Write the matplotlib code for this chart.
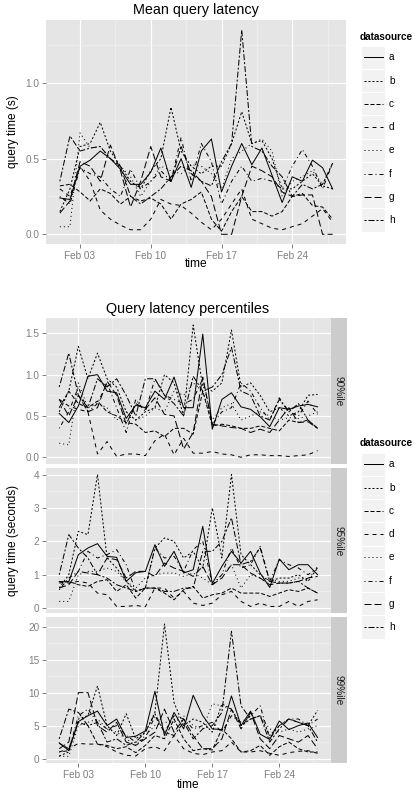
import numpy as np
import pandas as pd
import matplotlib
matplotlib.use("Agg")
import matplotlib.pyplot as plt
import matplotlib.dates as mdates
from matplotlib.ticker import MultipleLocator, FixedLocator, FormatStrFormatter
from matplotlib.lines import Line2D
from matplotlib.patches import Rectangle

plt.rcParams['font.family'] = ['Liberation Sans', 'DejaVu Sans']

# --- data ---
days = pd.date_range('2014-02-01', periods=28, freq='D')
sources = ['a', 'b', 'c', 'd', 'e', 'f', 'g', 'h']
percentiles = ['90%ile', '95%ile', '99%ile']

# mean query latency (s)
mean_a = [0.24, 0.23, 0.45, 0.49, 0.55, 0.50, 0.43, 0.33, 0.33, 0.41, 0.57, 0.35, 0.50, 0.31,
          0.55, 0.63, 0.28, 0.45, 0.60, 0.46, 0.57, 0.39, 0.21, 0.38, 0.35, 0.49, 0.44, 0.30]
mean_b = [0.15, 0.30, 0.58, 0.60, 0.74, 0.55, 0.45, 0.35, 0.30, 0.42, 0.50, 0.84, 0.55, 0.45,
          0.40, 0.45, 0.45, 0.60, 0.81, 0.60, 0.62, 0.50, 0.30, 0.30, 0.35, 0.40, 0.32, 0.30]
mean_c = [0.32, 0.33, 0.28, 0.22, 0.30, 0.27, 0.20, 0.25, 0.22, 0.24, 0.20, 0.10, 0.20, 0.23,
          0.28, 0.10, 0.02, 0.15, 0.25, 0.15, 0.15, 0.12, 0.15, 0.25, 0.27, 0.19, 0.18, 0.10]
mean_d = [0.30, 0.25, 0.45, 0.35, 0.16, 0.10, 0.06, 0.03, 0.03, 0.10, 0.23, 0.20, 0.19, 0.14,
          0.08, 0.03, 0.10, 0.20, 0.30, 0.10, 0.07, 0.04, 0.03, 0.05, 0.07, 0.12, 0.17, 0.08]
mean_e = [0.05, 0.05, 0.67, 0.57, 0.58, 0.50, 0.45, 0.38, 0.25, 0.35, 0.45, 0.42, 0.40, 0.46,
          0.45, 0.40, 0.30, 0.50, 0.55, 0.60, 0.63, 0.55, 0.25, 0.35, 0.38, 0.42, 0.33, 0.47]
mean_f = [0.25, 0.20, 0.44, 0.40, 0.38, 0.30, 0.25, 0.43, 0.30, 0.35, 0.42, 0.35, 0.64, 0.35,
          0.60, 0.48, 0.20, 0.35, 0.45, 0.35, 0.37, 0.35, 0.30, 0.45, 0.56, 0.45, 0.30, 0.47]
mean_g = [0.14, 0.22, 0.48, 0.45, 0.35, 0.59, 0.42, 0.18, 0.35, 0.58, 0.38, 0.35, 0.58, 0.40,
          0.35, 0.25, 0.00, 0.00, 0.25, 0.45, 0.42, 0.38, 0.28, 0.25, 0.26, 0.26, 0.00, 0.00]
mean_h = [0.35, 0.65, 0.55, 0.57, 0.58, 0.50, 0.45, 0.25, 0.20, 0.25, 0.30, 0.38, 0.45, 0.42,
          0.35, 0.32, 0.48, 0.60, 1.35, 0.58, 0.55, 0.45, 0.38, 0.25, 0.33, 0.30, 0.33, 0.47]

# 90th percentile (s)
p90_a = [0.53, 0.42, 0.62, 0.98, 1.00, 0.80, 0.78, 0.47, 0.63, 0.60, 0.80, 0.70, 0.97, 0.60,
         0.60, 1.49, 0.34, 0.70, 0.78, 0.61, 0.58, 0.49, 0.37, 0.60, 0.58, 0.62, 0.64, 0.61]
p90_b = [0.55, 0.80, 1.34, 0.95, 1.26, 0.95, 0.85, 0.55, 0.45, 0.55, 0.60, 1.00, 0.90, 0.50,
         1.60, 0.85, 0.80, 0.90, 1.54, 0.85, 0.90, 0.75, 0.55, 0.60, 0.50, 0.55, 0.75, 0.76]
p90_c = [0.60, 0.80, 0.65, 0.60, 0.68, 0.55, 0.50, 0.42, 0.40, 0.30, 0.32, 0.25, 0.35, 0.35,
         0.28, 0.80, 0.38, 0.40, 0.38, 0.35, 0.35, 0.38, 0.35, 0.32, 0.45, 0.42, 0.45, 0.35]
p90_d = [0.70, 0.62, 0.58, 0.55, 0.04, 0.19, 0.01, 0.04, 0.04, 0.02, 0.20, 0.28, 0.03, 0.23,
         0.05, 0.05, 0.07, 0.04, 0.03, 0.00, 0.03, 0.03, 0.02, 0.02, 0.01, 0.02, 0.03, 0.08]
p90_e = [0.17, 0.15, 0.90, 0.60, 0.65, 0.60, 0.45, 0.55, 0.45, 0.50, 0.60, 0.55, 0.80, 0.75,
         0.90, 0.80, 0.45, 0.60, 0.65, 0.45, 0.50, 0.55, 0.50, 0.45, 0.48, 0.47, 0.50, 0.55]
p90_f = [0.35, 0.55, 0.85, 0.55, 0.65, 0.90, 0.60, 0.30, 0.70, 0.55, 0.95, 0.75, 0.70, 0.65,
         0.70, 0.95, 0.40, 0.55, 0.60, 0.90, 0.80, 0.60, 0.45, 0.72, 0.55, 0.50, 0.68, 0.52]
p90_g = [0.70, 0.50, 0.75, 0.55, 0.60, 0.92, 0.75, 0.40, 0.65, 0.58, 0.72, 0.52, 0.50, 0.10,
         0.30, 0.97, 0.40, 0.38, 0.36, 0.35, 0.30, 0.34, 0.30, 0.45, 0.60, 0.42, 0.43, 0.35]
p90_h = [0.85, 1.26, 0.75, 0.60, 0.95, 0.85, 0.95, 0.75, 0.50, 0.95, 0.95, 0.75, 0.65, 0.50,
         0.98, 0.80, 0.85, 1.00, 1.33, 0.80, 0.75, 0.50, 0.45, 0.70, 0.55, 0.65, 0.45, 0.35]

# 95th percentile (s)
p95_a = [0.79, 0.79, 1.60, 1.80, 1.93, 1.55, 1.52, 0.80, 1.06, 1.10, 1.90, 1.25, 1.70, 1.05,
         1.15, 2.45, 0.74, 1.25, 1.70, 1.35, 1.70, 1.05, 0.62, 1.47, 1.15, 1.30, 1.30, 1.00]
p95_b = [0.60, 1.00, 2.30, 2.20, 4.00, 1.50, 1.20, 0.80, 0.50, 0.60, 1.80, 2.10, 2.00, 1.50,
         1.70, 1.20, 3.00, 1.50, 4.00, 1.60, 1.30, 1.00, 0.80, 0.90, 0.90, 1.00, 0.80, 1.20]
p95_c = [0.75, 0.80, 0.70, 0.65, 0.80, 0.85, 0.50, 0.70, 0.30, 0.60, 0.60, 0.45, 0.25, 0.55,
         0.65, 0.30, 0.40, 0.45, 0.60, 0.45, 0.45, 0.45, 0.35, 0.45, 0.55, 0.50, 0.60, 0.45]
p95_d = [0.80, 0.75, 0.80, 0.75, 0.45, 0.40, 0.05, 0.05, 0.08, 0.04, 0.60, 0.60, 0.30, 0.50,
         0.15, 0.08, 0.15, 0.40, 0.50, 0.20, 0.05, 0.15, 0.05, 0.05, 0.20, 0.05, 0.20, 0.25]
p95_e = [0.20, 0.20, 1.00, 1.10, 1.10, 1.20, 1.10, 0.80, 0.60, 0.90, 1.00, 1.05, 1.05, 0.95,
         1.05, 0.90, 0.70, 1.00, 1.30, 0.60, 1.00, 0.90, 0.85, 0.80, 0.80, 0.90, 0.85, 1.25]
p95_f = [0.55, 0.90, 1.10, 1.70, 1.50, 1.60, 1.75, 1.30, 0.50, 0.60, 1.80, 1.50, 1.55, 1.10,
         1.75, 2.00, 0.70, 1.00, 1.80, 1.20, 1.30, 1.85, 0.80, 1.45, 1.30, 1.20, 1.00, 1.20]
p95_g = [0.60, 0.70, 1.10, 1.05, 1.00, 1.50, 1.45, 0.90, 1.10, 1.10, 0.95, 1.35, 1.20, 1.10,
         0.95, 1.25, 0.70, 0.90, 1.30, 1.30, 1.05, 0.90, 0.70, 0.75, 0.75, 0.80, 0.90, 0.95]
p95_h = [1.00, 2.20, 1.80, 1.50, 1.00, 0.90, 0.70, 0.60, 0.50, 0.60, 0.60, 0.50, 0.50, 0.60,
         0.60, 1.70, 1.70, 2.00, 2.70, 1.30, 1.40, 1.80, 0.80, 0.75, 0.75, 0.80, 0.60, 0.45]

# 99th percentile (s)
p99_a = [2.4, 1.2, 5.6, 6.5, 7.2, 5.0, 6.0, 3.2, 3.4, 4.2, 10.2, 3.5, 7.0, 4.5,
         9.6, 6.5, 4.5, 4.4, 9.5, 5.0, 7.2, 3.7, 2.9, 5.7, 4.4, 5.0, 5.4, 3.2]
p99_b = [0.4, 1.0, 6.0, 6.5, 11.0, 5.0, 3.5, 6.8, 3.0, 4.0, 7.0, 20.4, 8.5, 5.0,
         6.0, 5.5, 4.0, 8.3, 7.5, 5.0, 6.0, 6.5, 3.5, 5.0, 6.0, 5.5, 5.0, 7.3]
p99_c = [2.3, 1.5, 5.5, 5.0, 2.2, 2.0, 1.5, 1.8, 0.9, 2.0, 3.5, 3.0, 6.0, 3.0,
         1.2, 1.5, 1.3, 4.5, 3.0, 1.0, 1.2, 2.0, 0.5, 1.8, 2.5, 1.5, 1.0, 1.0]
p99_d = [1.0, 1.5, 2.3, 2.2, 2.2, 1.8, 1.0, 0.5, 0.4, 1.5, 1.8, 1.2, 3.5, 1.5,
         0.8, 0.6, 1.0, 1.2, 2.5, 1.0, 1.0, 1.2, 0.8, 0.5, 0.9, 1.1, 1.2, 0.8]
p99_e = [0.35, 0.35, 5.0, 5.5, 6.0, 4.5, 4.0, 3.0, 2.0, 3.5, 5.0, 5.5, 5.5, 6.5,
         5.0, 4.5, 8.3, 8.0, 7.5, 5.0, 6.0, 6.5, 4.5, 4.0, 4.5, 4.0, 4.5, 5.0]
p99_f = [1.0, 1.2, 6.5, 7.5, 5.5, 4.5, 5.0, 3.5, 2.5, 3.0, 6.5, 4.0, 6.5, 6.0,
         4.5, 5.0, 5.5, 4.0, 6.5, 5.5, 6.5, 8.0, 3.0, 5.0, 6.0, 6.0, 5.0, 6.0]
p99_g = [1.5, 2.5, 10.0, 10.0, 5.0, 4.0, 5.5, 2.5, 2.0, 3.0, 4.0, 7.5, 4.0, 6.0,
         3.5, 1.5, 1.5, 3.0, 7.5, 4.5, 7.0, 3.0, 1.5, 3.5, 3.0, 2.5, 3.5, 1.5]
p99_h = [3.0, 7.5, 7.0, 5.0, 5.5, 2.5, 3.0, 2.0, 2.5, 4.0, 6.8, 4.0, 3.5, 5.5,
         3.0, 4.5, 5.0, 7.0, 19.3, 8.0, 6.0, 6.5, 2.5, 4.5, 6.0, 5.5, 5.0, 2.5]

mean_series = [mean_a, mean_b, mean_c, mean_d, mean_e, mean_f, mean_g, mean_h]
p90_series = [p90_a, p90_b, p90_c, p90_d, p90_e, p90_f, p90_g, p90_h]
p95_series = [p95_a, p95_b, p95_c, p95_d, p95_e, p95_f, p95_g, p95_h]
p99_series = [p99_a, p99_b, p99_c, p99_d, p99_e, p99_f, p99_g, p99_h]

# ggplot default linetypes: solid, 22, 42, 44, 13, 1343, 73, 2262
linetypes = ['-', (0, (2, 2)), (0, (4, 2)), (0, (4, 4)), (0, (1, 3)),
             (0, (1, 3, 4, 3)), (0, (7, 3)), (0, (2, 2, 6, 2))]

W, H = 417, 793
LW = 0.72
GREY = '#7F7F7F'
SMALL = 7.2
fig = plt.figure(figsize=(W / 100, H / 100), dpi=100)


def box(x0, y0, x1, y1):
    return [x0 / W, 1 - y1 / H, (x1 - x0) / W, (y1 - y0) / H]


major_dates = pd.date_range('2014-02-03', periods=4, freq='7D')
minor_dates = mdates.date2num(major_dates) + 3.5


def panel(rect, series, ymaj, ymin, fmt, show_x=True):
    ax = fig.add_axes(box(*rect))
    for vals, ls in zip(series, linetypes):
        ax.plot(days, vals, color='black', lw=LW, linestyle=ls)
    ax.set_xlim(days[0] - pd.Timedelta(days=1.35), days[-1] + pd.Timedelta(days=1.35))
    ax.margins(y=0.05)
    ax.set_facecolor('#E5E5E5')
    for s in ax.spines.values():
        s.set_visible(False)
    ax.xaxis.set_major_locator(FixedLocator(mdates.date2num(major_dates)))
    ax.xaxis.set_minor_locator(FixedLocator(minor_dates))
    ax.xaxis.set_major_formatter(mdates.DateFormatter('%b %d'))
    ax.yaxis.set_major_locator(MultipleLocator(ymaj))
    ax.yaxis.set_minor_locator(MultipleLocator(ymin))
    ax.yaxis.set_major_formatter(FormatStrFormatter(fmt))
    ax.grid(which='major', color='white', lw=0.85)
    ax.grid(which='minor', color='#F2F2F2', lw=0.45)
    ax.set_axisbelow(True)
    ax.tick_params(which='major', length=3, width=0.7, color=GREY,
                   labelcolor=GREY, labelsize=SMALL, pad=2)
    ax.tick_params(which='minor', length=0)
    if not show_x:
        ax.tick_params(axis='x', which='both', bottom=False, labelbottom=False)
    return ax


def strip(rect, label):
    sx = fig.add_axes(box(*rect))
    sx.set_facecolor('#CCCCCC')
    sx.set_xticks([])
    sx.set_yticks([])
    for s in sx.spines.values():
        s.set_visible(False)
    sx.text(0.5, 0.5, label, rotation=270, ha='center', va='center',
            fontsize=SMALL, color='#1A1A1A', transform=sx.transAxes)


def legend(y_title, y_first):
    fig.text(360 / W, 1 - y_title / H, 'datasource', fontsize=SMALL,
             fontweight='bold', ha='left', va='center')
    step = 23.25
    for i, (name, ls) in enumerate(zip(sources, linetypes)):
        yc = y_first + i * step
        fig.add_artist(Rectangle((361 / W, 1 - (yc + step / 2) / H), 23.5 / W, step / H,
                                 transform=fig.transFigure, facecolor='#F2F2F2',
                                 edgecolor='white', lw=0.8))
        fig.add_artist(Line2D([363.5 / W, 382.5 / W], [1 - yc / H, 1 - yc / H],
                              transform=fig.transFigure, color='black', lw=LW,
                              linestyle=ls))
        fig.text(389 / W, 1 - yc / H, name, fontsize=SMALL, ha='left', va='center')


# --- top chart: mean latency ---
panel((46.2, 19.8, 346.3, 244.5), mean_series, 0.5, 0.25, '%.1f')
fig.text(196 / W, 1 - 10 / H, 'Mean query latency', fontsize=10.4, ha='center', va='center')
fig.text(196 / W, 1 - 264 / H, 'time', fontsize=8.6, ha='center', va='center')
fig.text(13 / W, 1 - 132 / H, 'query time (s)', fontsize=8.6, rotation=90,
         ha='center', va='center')
legend(37.3, 57.3)

# --- bottom chart: percentiles faceted ---
rows = [(318.4, 463.9), (467.9, 613.4), (617.4, 762.9)]
specs = [(p90_series, 0.5, 0.25, '%.1f'), (p95_series, 1, 0.5, '%d'), (p99_series, 5, 2.5, '%d')]
for k, ((y0, y1), (ser, ymaj, ymin, fmt)) in enumerate(zip(rows, specs)):
    panel((46.3, y0, 330.5, y1), ser, ymaj, ymin, fmt, show_x=(k == 2))
    strip((330.5, y0, 347, y1), percentiles[k])

fig.text(188 / W, 1 - 309 / H, 'Query latency percentiles', fontsize=10.4,
         ha='center', va='center')
fig.text(188 / W, 1 - 785 / H, 'time', fontsize=8.6, ha='center', va='center')
fig.text(13 / W, 1 - 540 / H, 'query time (seconds)', fontsize=8.6, rotation=90,
         ha='center', va='center')
legend(443, 464.3)

fig.savefig('out.png', dpi=100, facecolor='white')
